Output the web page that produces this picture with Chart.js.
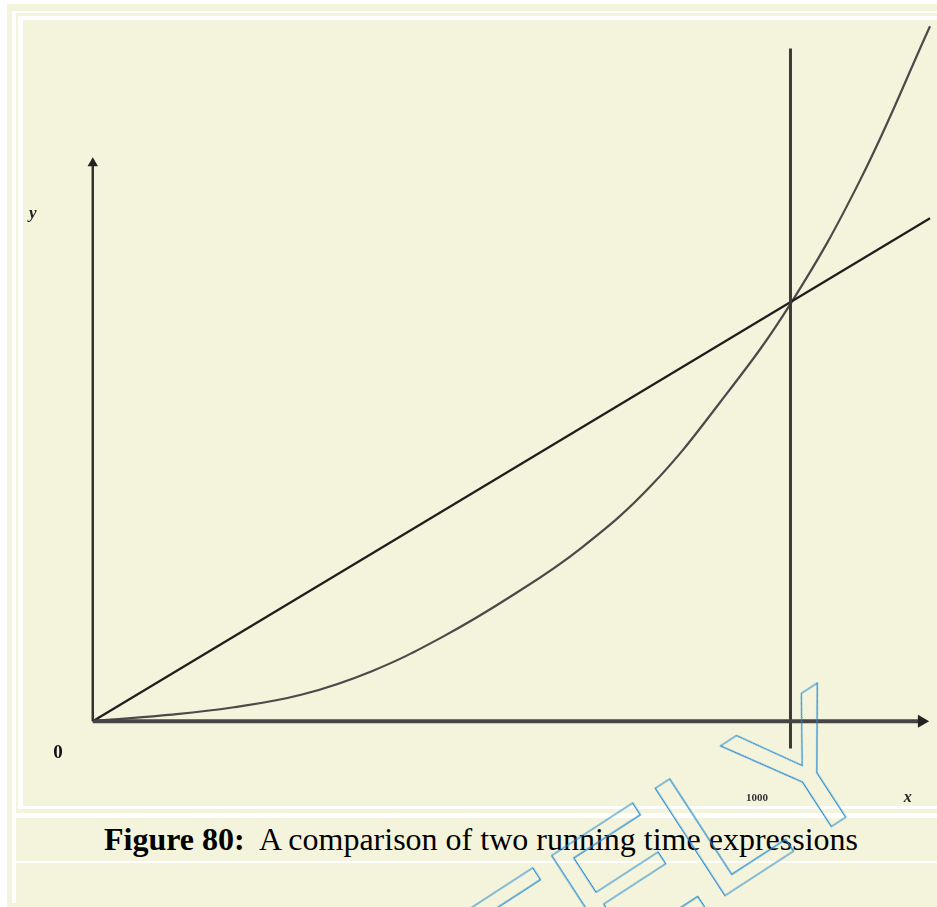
<!DOCTYPE html>
<html>
<head>
<meta charset="utf-8">
<script src="https://cdn.jsdelivr.net/npm/chart.js@4.4.0/dist/chart.umd.min.js"></script>
<style>
  html, body { margin: 0; padding: 0; background: #ffffff; width: 937px; height: 907px; overflow: hidden; position: relative; }
  .blk { position: absolute; }
  .cream { background: #f4f4dc; }
  .white { background: #ffffff; }
  #panel { left: 23px; top: 20px; width: 920px; height: 786px; }
  #chartBox { position: absolute; left: 23px; top: 20px; width: 914px; height: 786px; }
  #caption { left: 16px; top: 818px; width: 930px; height: 43px; text-align: center;
    font-family: "Liberation Serif", "Times New Roman", serif; font-size: 32px; line-height: 43px; color: #000; }
  #wm { position: absolute; left: 891px; top: 789px; width: 0; height: 0; transform: rotate(-33deg); transform-origin: 0 0; z-index: 5; pointer-events: none; }
  #wm span { position: absolute; right: 0; bottom: -28px; line-height: 185px; font-size: 185px; white-space: nowrap;
    font-family: "Liberation Sans", Arial, sans-serif; color: transparent; -webkit-text-stroke: 1.2px #1f86d0; }
</style>
</head>
<body>
<div class="blk cream" style="left:7px;top:4px;width:940px;height:903px;"></div>
<div class="blk white" style="left:12px;top:11px;width:935px;height:892px;"></div>
<div class="blk cream" style="left:16px;top:13px;width:931px;height:800px;"></div>
<div class="blk white" style="left:18px;top:16px;width:929px;height:793px;"></div>
<div id="panel" class="blk cream"></div>
<div id="caption" class="blk cream"><b>Figure 80:</b>&nbsp; A comparison of two running time expressions</div>
<div class="blk cream" style="left:16px;top:863px;width:930px;height:40px;"></div>
<div id="chartBox"><canvas id="chart"></canvas></div>
<div id="wm"><span>SAFELY</span></div>
<script>
// values (x in input size, y in same units as the straight line)
const xValues = [0, 100, 200, 300, 400, 500, 600, 700, 800, 900, 1000, 1100, 1200];
const curveValues = [0, 14, 33, 64, 120, 201, 300, 415, 564, 766, 1000, 1297, 1665];
const lineX = [0, 1200];
const lineY = [0, 1205];
const yAxisTop = 1337;
const xAxisEnd = 1188;
const markerX = 1000;
const markerSpan = [-65, 1612];

const pts = (xs, ys) => xs.map((x, i) => ({ x: x, y: ys[i] }));

// axis labels drawn at scale positions
const labels = [
    { text: 'y', x: -86, y: 1217, font: 'italic bold 17px "Liberation Serif"', color: '#222' },
    { text: '0', x: -50, y: -76, font: 'bold 19px "Liberation Serif"', color: '#111' },
    { text: '1000', x: 952, y: -184, font: 'bold 11px "Liberation Serif"', color: '#333' },
    { text: 'x', x: 1168, y: -184, font: 'italic bold 16px "Liberation Serif"', color: '#222' }
];

const labelPlugin = {
    id: 'labels',
    afterDraw(chart) {
        const ctx = chart.ctx;
        const sx = chart.scales.x, sy = chart.scales.y;
        ctx.save();
        ctx.textAlign = 'center';
        ctx.textBaseline = 'middle';
        labels.forEach(l => {
            ctx.font = l.font;
            ctx.fillStyle = l.color;
            ctx.fillText(l.text, sx.getPixelForValue(l.x), sy.getPixelForValue(l.y));
        });
        ctx.restore();
    }
};

new Chart(document.getElementById('chart').getContext('2d'), {
    type: 'line',
    data: {
        datasets: [
            {
                label: 'y axis',
                data: pts([0, 0], [0, yAxisTop]),
                borderColor: '#333',
                borderWidth: 2.5,
                pointRadius: [0, 3.5],
                pointStyle: 'triangle',
                pointBackgroundColor: '#222',
                pointBorderColor: '#222'
            },
            {
                label: 'x axis',
                data: pts([0, xAxisEnd], [0, 0]),
                borderColor: '#444',
                borderWidth: 4,
                pointRadius: [0, 3.5],
                pointStyle: 'triangle',
                rotation: 90,
                pointBackgroundColor: '#222',
                pointBorderColor: '#222'
            },
            {
                label: 'marker',
                data: pts([markerX, markerX], markerSpan),
                borderColor: '#3a3a3a',
                borderWidth: 3,
                pointRadius: 0
            },
            {
                label: 'linear',
                data: pts(lineX, lineY),
                borderColor: '#1e1e1e',
                borderWidth: 2.2,
                pointRadius: 0
            },
            {
                label: 'curve',
                data: pts(xValues, curveValues),
                borderColor: '#4a4a4a',
                borderWidth: 2.2,
                pointRadius: 0,
                tension: 0.4
            }
        ]
    },
    options: {
        responsive: true,
        maintainAspectRatio: false,
        animation: false,
        layout: { padding: 0, autoPadding: false },
        plugins: { legend: { display: false }, tooltip: { enabled: false } },
        scales: {
            x: { type: 'linear', min: -100, max: 1210, display: false },
            y: { type: 'linear', min: -203, max: 1680, display: false }
        },
        clip: false
    },
    plugins: [labelPlugin]
});
</script>
</body>
</html>
